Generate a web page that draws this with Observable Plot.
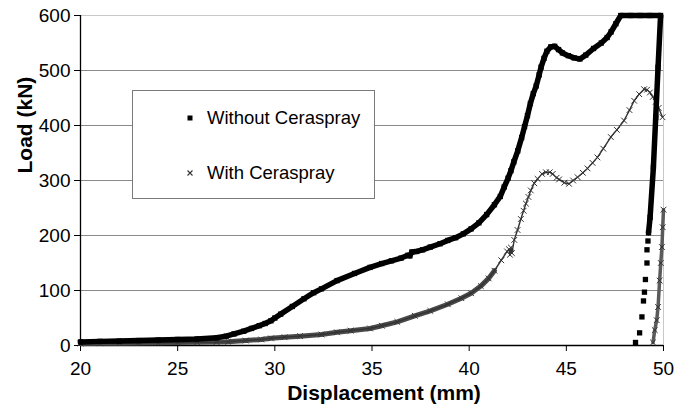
<!DOCTYPE html>
<html>
<head>
<meta charset="utf-8">
<script src="https://cdn.jsdelivr.net/npm/d3@7"></script>
<script src="https://cdn.jsdelivr.net/npm/@observablehq/plot@0.6"></script>
<style>
  body { margin: 0; background: #fff; }
  #wrap { position: relative; width: 690px; height: 416px; font-family: "Liberation Sans", Arial, sans-serif; }
  #legend { position: absolute; left: 132px; top: 90px; width: 243px; height: 109px; border: 1.5px solid #7a7a7a; background: #fff; box-sizing: border-box; }
  .lg-row { position: absolute; left: 0; font-size: 18.5px; color: #000; line-height: 20px; }
  .lg-row svg { position: absolute; }
  .lg-row span { position: absolute; left: 74px; white-space: nowrap; }
</style>
</head>
<body>
<div id="wrap">
  <div id="chart"></div>
  <div id="legend">
    <div class="lg-row" style="top:17px;"><svg width="10" height="10" style="left:52px;top:5px"><rect x="2.5" y="2.5" width="5" height="5" fill="#000"/></svg><span>Without Ceraspray</span></div>
    <div class="lg-row" style="top:72px;"><svg width="10" height="10" style="left:52px;top:5px"><path d="M2.5,2.5L7.5,7.5M7.5,2.5L2.5,7.5" stroke="#333" stroke-width="1.1"/></svg><span>With Ceraspray</span></div>
  </div>
</div>
<script>
// ---- data ----
const xTicks = [20, 25, 30, 35, 40, 45, 50];
const yTicks = [0, 100, 200, 300, 400, 500, 600];

// Without Ceraspray: dense trace (displacement mm, load kN)
const withoutX = [20, 21, 22, 23, 24, 25, 26, 27, 27.5, 27.9, 28.4, 28.8, 29.2, 29.5, 29.8, 30.0, 30.3, 30.9, 31.5, 32.0, 32.4, 33.2, 34.1, 34.9, 35.5, 36.0, 36.5, 36.85, 36.95, 37.05, 37.3, 37.6, 38.0, 38.5, 38.9, 39.3, 39.7, 40.1, 40.5, 40.9, 41.3, 41.6, 41.8, 42.0, 42.15, 42.3, 42.5, 42.7, 42.85, 43.0, 43.15, 43.3, 43.45, 43.6, 43.7, 43.85, 44.0, 44.2, 44.4, 44.6, 44.8, 45.1, 45.4, 45.7, 46.0, 46.4, 46.8, 47.1, 47.3, 47.55, 47.8, 48.3, 48.8, 49.3, 49.85, 49.72, 49.6, 49.48, 49.31, 49.23];
const withoutY = [6.5, 7.5, 8, 9, 10, 11, 12, 14, 17, 21, 26, 31, 36, 40, 45, 50, 57, 71, 85, 96, 103, 118, 131, 142, 149, 154, 159, 164, 163, 170, 171, 174, 179, 185, 191, 196, 203, 212, 223, 238, 256, 271, 288, 304, 318, 334, 354, 378, 398, 418, 440, 458, 472, 492, 506, 522, 535, 543, 544, 538, 532, 527, 523, 521, 528, 540, 550, 560, 570, 585, 600, 600, 600, 600, 600, 506, 415, 324, 233, 205];
// Without Ceraspray: separate squares on the unloading tail
const withoutTailX = [49.2, 49.15, 49.15, 49.07, 49.02, 48.97, 48.89, 48.77, 48.56];
const withoutTailY = [190, 174, 150, 120, 97, 81, 52, 23, 5.5];

// With Ceraspray: main trace
const withX = [20, 21, 22, 23, 24, 25, 26, 27, 27.6, 28.5, 29.3, 29.8, 30.5, 31.3, 32.4, 33.2, 33.9, 34.9, 35.5, 36.3, 37.2, 38.0, 38.9, 39.6, 40.1, 40.6, 41.0, 41.3, 41.65, 41.95, 42.05, 42.1, 42.15, 42.2, 42.32, 42.49, 42.66, 42.8, 42.92, 43.05, 43.17, 43.35, 43.52, 43.75, 43.95, 44.15, 44.3, 44.5, 44.63, 44.9, 45.14, 45.35, 45.58, 45.85, 46.09, 46.35, 46.6, 46.9, 47.29, 47.6, 47.97, 48.25, 48.49, 48.75, 49.0, 49.15, 49.3, 49.45, 49.6, 49.75, 49.95];
const withY = [3.6, 4, 4.3, 4.6, 5, 5.3, 5.7, 6.2, 7, 9, 11, 13, 15, 17, 20, 24, 27, 31, 36, 43, 54, 63, 75, 86, 95, 108, 122, 136, 155, 171, 175, 165, 178, 168, 192, 210, 230, 245, 258, 270, 282, 295, 303, 312, 315, 315, 312, 305, 302, 296, 294, 300, 306, 314, 322, 332, 342, 358, 379, 392, 409, 428, 445, 457, 466, 465, 460, 452, 443, 432, 415];
// With Ceraspray: reloading tail near 50 mm
const withTailX = [49.46, 49.55, 49.65, 49.72, 49.8, 49.86, 49.92, 49.96, 50.0];
const withTailY = [5.5, 28, 46, 70, 118, 150, 179, 215, 247];

// ---- tables built from the arrays ----
const withoutData = withoutX.map((x, i) => ({x, y: withoutY[i]}));
const withoutTail = withoutTailX.map((x, i) => ({x, y: withoutTailY[i]}));
const withData = withX.map((x, i) => ({x, y: withY[i]}));
const withTail = withTailX.map((x, i) => ({x, y: withTailY[i]}));
const withLow = withData.filter(d => d.x <= 41.4);

const chart = Plot.plot({
  width: 690,
  height: 416,
  marginLeft: 80,
  marginRight: 27,
  marginTop: 15,
  marginBottom: 71,
  style: {fontFamily: "'Liberation Sans', Arial, sans-serif", fontSize: "19px", color: "#000", background: "#fff", overflow: "visible"},
  x: {domain: [20, 50]},
  y: {domain: [0, 600]},
  marks: [
    Plot.gridY(yTicks.filter(v => v > 0 && v < 600), {stroke: "#8a8a8a", strokeOpacity: 1}),
    Plot.gridY([600], {stroke: "#c8c8c8", strokeOpacity: 1}),
    Plot.ruleX([50], {stroke: "#c8c8c8"}),
    Plot.axisY({ticks: yTicks, tickSize: 6, tickPadding: 4, label: null, fontSize: 19}),
    Plot.axisX({ticks: xTicks, tickSize: 6, tickPadding: 10, label: null, fontSize: 19}),
    Plot.ruleX([20], {stroke: "#000", strokeWidth: 1.3}),
    Plot.ruleY([0], {stroke: "#000", strokeWidth: 1.3}),
    // With Ceraspray
    Plot.line(withLow, {x: "x", y: "y", stroke: "#4a4a4a", strokeWidth: 5}),
    Plot.line(withData, {x: "x", y: "y", stroke: "#333", strokeWidth: 1.4}),
    Plot.line(withTail, {x: "x", y: "y", stroke: "#5a5a5a", strokeWidth: 3.5}),
    Plot.dot(withData, {x: "x", y: "y", symbol: "times", r: 2.7, stroke: "#333", strokeWidth: 1}),
    Plot.dot(withTail, {x: "x", y: "y", symbol: "times", r: 2.7, stroke: "#333", strokeWidth: 1}),
    // Without Ceraspray
    Plot.line(withoutData, {x: "x", y: "y", stroke: "#000", strokeWidth: 5.5}),
    Plot.dot(withoutData, {x: "x", y: "y", symbol: "square", r: 3, fill: "#000", stroke: "none"}),
    Plot.dot(withoutTail, {x: "x", y: "y", symbol: "square", r: 3, fill: "#000", stroke: "none"}),
    // axis titles
    Plot.text(["Displacement (mm)"], {frameAnchor: "bottom", dy: 54, dx: 12, fontWeight: "bold", fontSize: 21, text: d => d}),
    Plot.text(["Load (kN)"], {frameAnchor: "left", dx: -55, dy: -7, rotate: -90, fontWeight: "bold", fontSize: 21, text: d => d})
  ]
});
document.getElementById("chart").appendChild(chart);
</script>
</body>
</html>
